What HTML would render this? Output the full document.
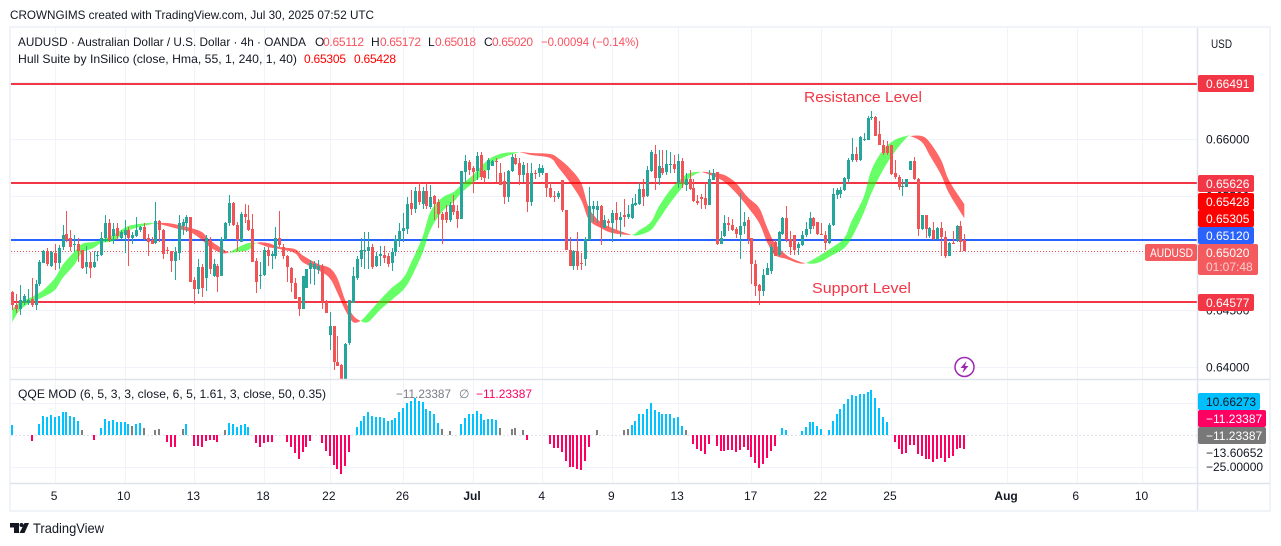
<!DOCTYPE html>
<html lang="en">
<head>
<meta charset="utf-8">
<title>AUDUSD 4h chart</title>
<style>
html,body{margin:0;padding:0;background:#fff;width:1281px;height:546px;overflow:hidden}
svg{display:block}
text{font-family:"Liberation Sans",sans-serif;font-size:12px;fill:#131722}
</style>
</head>
<body>
<svg id="chart" width="1281" height="546" viewBox="0 0 1281 546" xmlns="http://www.w3.org/2000/svg">
  <defs><clipPath id="main-clip"><rect x="11" y="28" width="1186" height="351"/></clipPath></defs>
  <rect x="0" y="0" width="1281" height="546" fill="#fff"/>
  <text x="10" y="19" textLength="364" lengthAdjust="spacingAndGlyphs">CROWNGIMS created with TradingView.com, Jul 30, 2025 07:52 UTC</text>
  <rect x="10" y="27" width="1260" height="484" fill="none" stroke="#f0f3fa" stroke-width="2"/>

  <g id="grid-layer"></g>
  <g id="level-layer" clip-path="url(#main-clip)"></g>
  <g id="hull-layer" clip-path="url(#main-clip)"></g>
  <g id="candle-layer" clip-path="url(#main-clip)"></g>
  <g id="qqe-layer"></g>

  <line x1="10" y1="379.5" x2="1270" y2="379.5" stroke="#e0e3eb" stroke-width="1.5"/>
  <line x1="10" y1="483.5" x2="1270" y2="483.5" stroke="#e0e3eb" stroke-width="1.5"/>
  <line x1="1197.5" y1="28" x2="1197.5" y2="510" stroke="#e0e3eb" stroke-width="1.5"/>

  <g id="axis-label-layer"></g>

  <g>
    <text x="18" y="46" textLength="288" lengthAdjust="spacingAndGlyphs">AUDUSD · Australian Dollar / U.S. Dollar · 4h · OANDA</text>
    <text x="315" y="46">O</text>
    <text x="323" y="46" textLength="41" style="fill:#f7525f">0.65112</text>
    <text x="371" y="46">H</text>
    <text x="380" y="46" textLength="41" style="fill:#f7525f">0.65172</text>
    <text x="428" y="46">L</text>
    <text x="435" y="46" textLength="41" style="fill:#f7525f">0.65018</text>
    <text x="484" y="46">C</text>
    <text x="492" y="46" textLength="41" style="fill:#f7525f">0.65020</text>
    <text x="541" y="46" textLength="98" lengthAdjust="spacingAndGlyphs" style="fill:#f7525f">−0.00094 (−0.14%)</text>
    <text x="18" y="63" textLength="279" lengthAdjust="spacingAndGlyphs">Hull Suite by InSilico (close, Hma, 55, 1, 240, 1, 40)</text>
    <text x="304" y="63" textLength="42" style="fill:#ff0000">0.65305</text>
    <text x="354" y="63" textLength="42" style="fill:#ff0000">0.65428</text>
  </g>

  <text x="804" y="102" textLength="118" lengthAdjust="spacingAndGlyphs" style="font-size:15px;fill:#f23645">Resistance Level</text>
  <text x="812" y="293" textLength="99" lengthAdjust="spacingAndGlyphs" style="font-size:15px;fill:#f23645">Support Level</text>

  <g>
    <circle cx="964.5" cy="367" r="9.5" fill="#fff" stroke="#9c27b0" stroke-width="1.5"/>
    <path d="M966.5 361 L960.5 368 L964 368 L962.5 373 L968.5 366 L965 366 Z" fill="#9c27b0"/>
  </g>

  <text x="1211" y="48" textLength="21" lengthAdjust="spacingAndGlyphs">USD</text>

  <g>
    <rect x="1198" y="75" width="56" height="17" rx="2" fill="#f23645"/>
    <text x="1206" y="88" style="fill:#fff">0.66491</text>
    <rect x="1198" y="175" width="56" height="17" rx="2" fill="#f23645"/>
    <text x="1206" y="188" style="fill:#fff">0.65626</text>
    <rect x="1198" y="193" width="56" height="17" rx="2" fill="#ff0000"/>
    <text x="1206" y="206" style="fill:#fff">0.65428</text>
    <rect x="1198" y="210" width="56" height="17" rx="2" fill="#ff0000"/>
    <text x="1206" y="223" style="fill:#fff">0.65305</text>
    <rect x="1198" y="227" width="56" height="17" rx="2" fill="#2962ff"/>
    <text x="1206" y="240" style="fill:#fff">0.65120</text>
    <rect x="1198" y="244" width="60" height="31" rx="2" fill="#f45b5e"/>
    <text x="1206" y="257" style="fill:#fff">0.65020</text>
    <text x="1206" y="271" style="fill:#fff;fill-opacity:.7">01:07:48</text>
    <rect x="1145" y="244" width="52" height="17" rx="2" fill="#f45b5e"/>
    <text x="1150" y="257" textLength="43" lengthAdjust="spacingAndGlyphs" style="fill:#fff">AUDUSD</text>
    <rect x="1198" y="294" width="56" height="17" rx="2" fill="#f23645"/>
    <text x="1206" y="307" style="fill:#fff">0.64577</text>
  </g>

  <g>
    <text x="18" y="398" textLength="308" lengthAdjust="spacingAndGlyphs">QQE MOD (6, 5, 3, 3, close, 6, 5, 1.61, 3, close, 50, 0.35)</text>
    <text x="396" y="398" textLength="55" lengthAdjust="spacingAndGlyphs" style="fill:#787b86">−11.23387</text>
    <text x="459" y="398" style="fill:#787b86">∅</text>
    <text x="476" y="398" textLength="56" lengthAdjust="spacingAndGlyphs" style="fill:#ff0062">−11.23387</text>
  </g>

  <g>
    <rect x="1198" y="393" width="62" height="17" rx="2" fill="#00bfff"/>
    <text x="1206" y="406">10.66273</text>
    <rect x="1198" y="410" width="68" height="17" rx="2" fill="#ff0062"/>
    <text x="1206" y="423" style="fill:#fff">−11.23387</text>
    <rect x="1198" y="427" width="68" height="17" rx="2" fill="#787878"/>
    <text x="1206" y="440" style="fill:#fff">−11.23387</text>
    <text x="1206" y="457">−13.60652</text>
    <text x="1206" y="471">−25.00000</text>
  </g>

  <g>
    <path d="M10 523 H19 V533 H14 V527.5 H10 Z" fill="#131722"/>
    <circle cx="21.5" cy="525" r="2" fill="#131722"/>
    <path d="M24.5 523 H29 L24.5 533 H19.5 Z" fill="#131722"/>
    <text x="33" y="533" textLength="71" lengthAdjust="spacingAndGlyphs" style="font-size:14px">TradingView</text>
  </g>
</svg>

<script>
// Prices are in pips: 6512 means 0.6512
const opens = [
6466,6454,6451,6457,6456,6460,6454,6473,6491,6502,
6489,6500,6491,6505,6517,6513,6507,6508,6503,6488,
6492,6488,6497,6498,6513,6526,6515,6522,6513,6516,
6520,6513,6515,6520,6523,6513,6511,6509,6528,6520,
6503,6502,6493,6500,6524,6526,6532,6476,6468,6488,
6478,6511,6480,6489,6480,6511,6526,6544,6525,6510,
6534,6529,6521,6493,6480,6481,6503,6497,6497,6513,
6505,6497,6487,6474,6461,6451,6469,6486,6486,6485,
6489,6457,6428,6436,6404,6402,6385,6421,6456,6478,
6495,6502,6502,6505,6489,6497,6498,6497,6491,6501,
6511,6519,6521,6544,6539,6554,6543,6554,6540,6550,
6545,6534,6536,6529,6542,6537,6530,6571,6580,6575,
6572,6586,6572,6573,6576,6581,6570,6563,6549,6572,
6583,6579,6568,6570,6545,6570,6570,6570,6570,6557,
6550,6549,6564,6538,6503,6489,6502,6491,6495,6511,
6539,6538,6541,6522,6528,6526,6535,6529,6533,6532,
6531,6542,6543,6556,6550,6572,6587,6566,
6575,6571,6577,6578,6561,6581,6560,6565,6557,6546,
6549,6548,6542,6564,6571,6508,6515,6526,6525,6521,
6516,6524,6529,6513,6490,6472,6467,6481,6484,6510,
6498,6517,6531,6512,6516,6504,6507,6516,6521,6531,
6527,6517,6516,6509,6525,6551,6552,6555,6565,6582,
6587,6582,6599,6599,6618,6619,6604,6595,6594,6595,
6570,6567,6558,6558,6573,6581,6565,6521,6533,6515,
6520,6512,6522,6514,6497,6509,6511,6524,6511];
const highs = [
6467,6464,6472,6464,6468,6478,6476,6494,6503,6504,
6502,6508,6507,6525,6537,6520,6516,6513,6503,6506,
6501,6502,6502,6518,6533,6530,6526,6526,6520,6529,
6523,6518,6532,6524,6526,6517,6514,6545,6529,6521,
6505,6502,6505,6533,6530,6533,6532,6479,6495,6490,
6516,6514,6495,6490,6514,6527,6551,6545,6527,6536,
6543,6542,6534,6496,6492,6505,6505,6502,6523,6537,
6508,6498,6488,6478,6461,6480,6486,6494,6493,6494,
6490,6459,6448,6436,6427,6403,6421,6459,6488,6497,
6513,6518,6518,6508,6501,6506,6506,6500,6504,6516,
6526,6535,6549,6555,6558,6562,6558,6561,6560,6551,
6547,6536,6542,6545,6551,6542,6572,6586,6582,6576,
6589,6589,6573,6583,6582,6583,6579,6571,6573,6587,
6587,6583,6580,6579,6579,6573,6578,6577,6570,6562,
6554,6554,6564,6538,6514,6503,6518,6500,6514,6558,
6546,6546,6542,6533,6530,6538,6545,6536,6547,6542,
6548,6552,6561,6565,6576,6590,6595,6590,
6590,6590,6589,6586,6587,6583,6570,6573,6565,6551,
6552,6561,6573,6574,6571,6519,6533,6532,6530,6523,
6553,6536,6532,6513,6494,6473,6486,6491,6508,6511,
6519,6532,6541,6519,6516,6510,6519,6527,6536,6532,
6527,6526,6519,6526,6557,6557,6558,6567,6583,6601,
6593,6603,6605,6620,6625,6620,6616,6599,6598,6595,
6582,6568,6565,6565,6581,6584,6566,6533,6533,6523,
6527,6523,6527,6519,6510,6519,6525,6528,6517];
const lows = [
6450,6447,6446,6454,6454,6453,6450,6471,6491,6489,
6488,6485,6486,6503,6510,6502,6501,6492,6486,6482,
6478,6487,6493,6497,6510,6510,6508,6511,6511,6500,
6489,6508,6514,6518,6511,6497,6508,6508,6510,6495,
6499,6483,6476,6494,6516,6518,6475,6455,6464,6461,
6467,6482,6479,6466,6480,6511,6524,6524,6502,6510,
6526,6519,6492,6465,6468,6480,6489,6486,6495,6505,
6495,6475,6466,6460,6445,6451,6469,6473,6472,6482,
6451,6447,6415,6397,6401,6370,6380,6419,6456,6476,
6488,6486,6486,6486,6488,6489,6491,6488,6484,6497,
6505,6510,6517,6533,6535,6542,6539,6539,6539,6529,
6522,6508,6526,6527,6533,6522,6530,6562,6568,6553,
6564,6564,6561,6565,6576,6562,6560,6543,6545,6571,
6577,6560,6562,6536,6541,6565,6567,6568,6549,6548,
6545,6547,6536,6503,6489,6485,6485,6485,6489,6511,
6527,6526,6507,6522,6522,6510,6520,6514,6523,6530,
6530,6541,6542,6541,6549,6571,6555,6560,
6568,6568,6570,6570,6557,6557,6554,6555,6545,6542,
6539,6539,6542,6564,6507,6508,6514,6519,6519,6513,
6495,6517,6508,6473,6462,6454,6462,6481,6482,6497,
6497,6516,6510,6498,6498,6498,6506,6514,6517,6521,
6516,6516,6503,6508,6524,6547,6548,6554,6561,6580,
6580,6581,6598,6599,6617,6603,6595,6586,6586,6568,
6565,6555,6550,6558,6573,6564,6515,6520,6513,6513,
6511,6511,6497,6496,6497,6508,6510,6501,6502];
const closes = [
6454,6451,6459,6462,6459,6454,6473,6492,6502,6490,
6501,6491,6504,6516,6511,6505,6508,6502,6487,6492,
6487,6492,6498,6513,6526,6511,6521,6515,6518,6520,
6513,6516,6520,6523,6512,6510,6508,6528,6520,6499,
6502,6493,6501,6526,6527,6532,6475,6468,6488,6469,
6513,6486,6490,6479,6512,6526,6544,6525,6511,6534,
6532,6520,6492,6475,6481,6503,6497,6499,6513,6507,
6497,6488,6474,6460,6451,6480,6486,6491,6490,6489,
6457,6447,6436,6404,6401,6375,6420,6459,6480,6495,
6503,6503,6505,6488,6497,6499,6496,6490,6501,6512,
6519,6522,6543,6539,6554,6545,6554,6541,6549,6543,
6534,6529,6529,6542,6536,6530,6572,6581,6573,6571,
6585,6567,6566,6582,6581,6580,6560,6549,6572,6584,
6578,6568,6577,6545,6570,6569,6575,6575,6557,6549,
6549,6553,6538,6503,6489,6502,6489,6490,6512,6541,
6541,6541,6523,6529,6526,6535,6529,6532,6532,6534,
6543,6544,6556,6549,6573,6589,6566,6576,
6570,6578,6578,6574,6581,6561,6565,6556,6546,6544,
6547,6542,6565,6570,6508,6513,6526,6525,6520,6517,
6524,6527,6512,6490,6471,6467,6481,6487,6505,6497,
6518,6531,6511,6505,6503,6508,6516,6521,6531,6524,
6517,6516,6509,6525,6552,6555,6555,6566,6582,6587,
6582,6602,6600,6618,6619,6603,6595,6588,6588,6569,
6567,6558,6559,6565,6581,6565,6521,6533,6521,6522,
6512,6522,6514,6497,6509,6508,6524,6510,6502];

// Hull Suite samples: bar number, leading hull and lagging hull (pips)
const hullBars = [0,2,5,8,11,13,16,18,21,23,26,29,31,35,37,40,43,46,49,51,54,56,58,61,63,66,69,73,75,79,82,84,86,88,90,92,95,98,101,103,106,108,111,114,116,119,122,124,127,131,134,139,141,144,147,149,152,155,160,162,165,167,170,173,175,178,181,184,187,190,193,195,197,200,203,205,208,212,215,217,220,222,225,228,231,232,235,237,240,242,246];
const hullFast = [6451,6457,6461.4,6467.6,6478,6489.5,6501,6508,6509.7,6511.4,6515.8,6522,6524.6,6526.3,6526,6523.7,6521,6518.4,6511.4,6505.3,6500,6500.5,6504.4,6508.8,6508.8,6505.3,6503.5,6500,6492,6485,6478,6465,6450,6439.5,6440.5,6447.4,6458.8,6469.3,6478,6491.2,6514,6536,6548.3,6553.5,6559.7,6568.4,6579,6584,6587.7,6588.3,6586,6583.3,6575.4,6562.3,6546.5,6529,6522,6517.6,6516,6520,6527.2,6540.4,6555.3,6565.8,6570.2,6571,6567.5,6562.3,6552.6,6540.4,6526.3,6509.7,6498.3,6494.8,6491.2,6491.2,6496.5,6505.3,6513.2,6529,6549.1,6572.8,6590.4,6599.1,6602.6,6602.6,6597.4,6586,6568.4,6552.6,6530.5];
const hullSlow = [6439.5,6450,6457,6461.4,6467.6,6478,6489.5,6500,6504.4,6508.8,6510.5,6517.6,6521,6524.6,6526,6526.3,6524.6,6522,6518.4,6511.4,6504.4,6500.5,6500.9,6502.6,6508.8,6508.8,6505.3,6503.5,6498,6490.4,6486.9,6478,6458.8,6445.6,6440.5,6439.5,6450,6458.8,6467.6,6478,6500,6520,6536,6544.8,6552.6,6561.4,6570,6579,6584,6588.3,6587.7,6586.8,6583.3,6574.6,6561.4,6539.5,6527.2,6522,6516,6515.8,6520,6529,6543.9,6557,6565.8,6571,6570.2,6568.4,6561.4,6549.1,6539.5,6522.8,6508.8,6498.3,6493,6491.2,6491.2,6498.3,6504.4,6514,6535.1,6552.6,6572.8,6588.6,6600.9,6602.6,6602.6,6597.4,6581.6,6564,6542.8];

// QQE MOD histogram, one value per bar (0 = no visible bar)
const qqeValues = [
8.1,0,0,0,0,-4.4,0,8.6,15.1,14.3,
15.6,13.8,15.1,18.2,18.2,15.1,14.3,11.2,4.2,0,
0,-3.6,0,5.7,12.5,11.2,12,10.4,10.4,10.4,
8.3,7.3,8.3,9.6,5.7,0,0,3.9,4.9,0,
-5.2,-9.6,-9.6,0,4.4,8.6,0,-8.8,-8.8,-9.6,
-4.4,-3.9,-3.9,-5.5,0,4.2,9.6,8.8,6,7.8,
8.8,6.5,0,-6.5,-9.6,-6.5,-5.7,-5.2,0,0,
0,-5.2,-9.6,-14.3,-19,-13.5,-9.1,-4.4,0,0,
-6.5,-12.2,-16.6,-23.4,-26.8,-30.7,-23.9,-13,0,6,
11.2,15.1,18.2,15.1,14,14,13,11.2,11.7,13.5,
18.2,21.3,24.7,26.5,28.6,26.5,26,20,18.7,16.4,
9.6,4.7,0,3.1,0,0,8.3,13.5,16.1,16.6,
18.7,16.1,12,12.7,12.7,12,5.2,0,0,4.7,
5.2,0,3.6,-3.6,0,0,0,0,0,-6.8,
-9.9,-9.9,-13.5,-20,-25.2,-25.2,-26.5,-27,-20,-9.1,
0,3.6,0,0,0,0,0,0,3.6,4.4,
8.1,11.2,16.6,16.6,20.5,25.2,19.8,18.2,16.1,16.1,
16.1,13.5,14.3,7.3,3.6,0,-7.3,-11.2,-12.2,-14.6,
-7.3,0,-8.3,-12.2,-12.2,-11.4,-12,-13.5,-11.4,-9.1,
-11.4,-16.9,-22.1,-26,-22.9,-18.2,-12.2,-8.3,0,5.7,
4.2,0,0,0,3.1,6.2,10.4,10.4,7.3,4.9,
0,4.2,11.2,16.6,20.5,24.4,28.3,31.5,30.7,32.2,
32.2,33.8,35.4,29.1,21.3,14.3,10.4,0,-5.2,-10.7,
-14.6,-13.8,-7.5,-7.5,-14.6,-16.1,-18.5,-19,-20.8,-18.5,
-18.2,-20.8,-17.7,-16.1,-10.7,-9.9,-11.2];
const qqeGrayBars = [18,31,34,37,38,44,55,111,113,126,129,130,132,151,158,159,174];
const qqeGridValues = [25,-25];

// Horizontal levels drawn across the price pane (pips)
const levelValues = [6648.2,6561.4,6511.4,6457];
const levelNames = ['resistance-line','mid-level-line','blue-level-line','support-line'];
const levelColors = ['#f23645','#f23645','#2962ff','#f23645'];
const lastClose = 6502;

const priceTicks = [6650,6600,6550,6500,6450,6400];
const priceTickLabels = ['0.66500','0.66000','0.65500','0.65000','0.64500','0.64000'];
const timeTickBars = [11,29,47,65,82,101,119,137,155,172,191,209,227,257,275,292];
const timeTickLabels = ['5','10','13','18','22','26','Jul','4','9','13','17','22','25','Aug','6','10'];
const timeTickBold = ['Jul','Aug'];

const NS = 'http://www.w3.org/2000/svg';
const xOf = function (bar) { return 12.3 + 3.87 * bar; };
const yOf = function (pips) { return 139 + (6600 - pips) * 1.14; };
const qOf = function (v) { return 435 - v * 1.28; };

function mk(parent, tag, attrs) {
  const el = document.createElementNS(NS, tag);
  Object.keys(attrs).forEach(function (k) { el.setAttribute(k, attrs[k]); });
  parent.appendChild(el);
  return el;
}

const gridLayer = document.getElementById('grid-layer');
const levelLayer = document.getElementById('level-layer');
const hullLayer = document.getElementById('hull-layer');
const candleLayer = document.getElementById('candle-layer');
const qqeLayer = document.getElementById('qqe-layer');
const labelLayer = document.getElementById('axis-label-layer');

// grid + axis labels
priceTicks.forEach(function (p, i) {
  const y = Math.round(yOf(p)) + 0.5;
  const line = mk(gridLayer, 'line', {x1: 11, x2: 1197, y1: y, y2: y, stroke: '#f0f3fa', 'stroke-width': 1});
  
  
  const t = mk(labelLayer, 'text', {x: 1206, y: y + 4});
  t.textContent = priceTickLabels[i];
  
  
});
qqeGridValues.forEach(function (v) {
  const y = Math.round(qOf(v)) + 0.5;
  const line = mk(gridLayer, 'line', {x1: 11, x2: 1197, y1: y, y2: y, stroke: '#f0f3fa', 'stroke-width': 1});
  
  
});
timeTickBars.forEach(function (b, i) {
  const x = Math.round(xOf(b)) + 0.5;
  const line = mk(gridLayer, 'line', {x1: x, x2: x, y1: 28, y2: 483, stroke: '#f0f3fa', 'stroke-width': 1});
  
  
  const t = mk(labelLayer, 'text', {x: xOf(b) - 0.8, y: 500, 'text-anchor': 'middle'});
  t.textContent = timeTickLabels[i];
  if (timeTickBold.indexOf(timeTickLabels[i]) >= 0) { t.setAttribute('font-weight', '700'); }
  
  
});
const zeroLine = mk(gridLayer, 'line', {x1: 11, x2: 1197, y1: 435.5, y2: 435.5, stroke: '#e0e3eb', 'stroke-width': 1, 'stroke-dasharray': '2 2'});



// horizontal levels
levelValues.forEach(function (v, i) {
  const y = Math.round(yOf(v));
  const line = mk(levelLayer, 'line', {x1: 11, x2: 1197, y1: y, y2: y, stroke: levelColors[i], 'stroke-width': 2});
  
  
});
const closeY = Math.round(yOf(lastClose)) + 0.5;
const closeLine = mk(levelLayer, 'line', {x1: 11, x2: 1197, y1: closeY, y2: closeY, stroke: '#ef5350', 'stroke-width': 1, 'stroke-dasharray': '1 2', 'shape-rendering': 'crispEdges'});



// hull band: smooth filled ribbon per run of the same colour
function curvePoint(values, i, t) {
  const n = hullBars.length - 1;
  const a = Math.max(i - 1, 0);
  const b = i;
  const c = Math.min(i + 1, n);
  const d = Math.min(i + 2, n);
  const cr = function (p0, p1, p2, p3) {
    return 0.5 * (2 * p1 + (p2 - p0) * t + (2 * p0 - 5 * p1 + 4 * p2 - p3) * t * t + (3 * p1 - p0 - 3 * p2 + p3) * t * t * t);
  };
  return cr(xOf(hullBars[a]), xOf(hullBars[b]), xOf(hullBars[c]), xOf(hullBars[d])).toFixed(2) + ',' +
         cr(yOf(values[a]), yOf(values[b]), yOf(values[c]), yOf(values[d])).toFixed(2);
}
function gapRising(i) {
  return (hullFast[i] - hullSlow[i]) + (hullFast[i + 1] - hullSlow[i + 1]) >= 0;
}
let runStart = 0;
for (let i = 0; i < hullBars.length - 1; i++) {
  const last = i === hullBars.length - 2;
  if (last || gapRising(i + 1) !== gapRising(i)) {
    const top = [];
    const bottom = [];
    for (let g = runStart; g <= i; g++) {
      for (let s = 0; s < 5; s++) {
        top.push(curvePoint(hullFast, g, s / 5));
        bottom.push(curvePoint(hullSlow, g, s / 5));
      }
    }
    top.push(curvePoint(hullFast, i, 1));
    bottom.push(curvePoint(hullSlow, i, 1));
    const rising = gapRising(i);
    const ribbon = mk(hullLayer, 'polygon', {points: top.concat(bottom.reverse()).join(' '), fill: rising ? '#00ff00' : '#ff0000', 'fill-opacity': 0.6});
    
    
    runStart = i + 1;
  }
}

// candles
opens.forEach(function (o, i) {
  const c = closes[i];
  const color = c >= o ? '#26a69a' : '#f05456';
  const x = Math.round(xOf(i));
  const top = Math.round(yOf(Math.max(o, c)));
  const bot = Math.round(yOf(Math.min(o, c)));
  const hiY = Math.round(yOf(highs[i]));
  const loY = Math.round(yOf(lows[i]));
  const wick = mk(candleLayer, 'rect', {x: x, width: 1, y: hiY, height: Math.max(1, loY - hiY), fill: color});
  
  
  const body = mk(candleLayer, 'rect', {x: x - 1, width: 3, y: top, height: Math.max(1, bot - top), fill: color});
  
  
});

// qqe histogram
qqeValues.forEach(function (v, i) {
  if (v === 0) { return; }
  const gray = qqeGrayBars.indexOf(i) >= 0;
  const color = gray ? '#808080' : (v > 0 ? '#00c3ff' : '#ff0062');
  const y0 = qOf(0);
  const y1 = Math.round(qOf(v));
  const bar = mk(qqeLayer, 'rect', {x: Math.round(xOf(i)) - 1, width: 2, y: Math.min(y0, y1), height: Math.abs(y1 - y0), fill: color});
  
  
});
</script>
</body>
</html>
